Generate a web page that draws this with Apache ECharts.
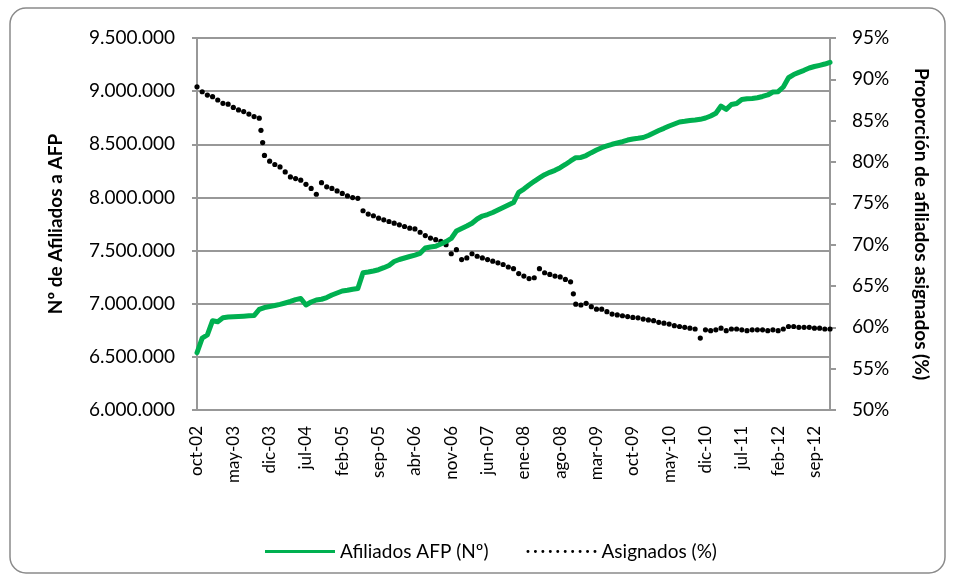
<!DOCTYPE html>
<html>
<head>
<meta charset="utf-8">
<title>Afiliados AFP</title>
<script src="https://cdn.jsdelivr.net/npm/echarts@6.0.0/dist/echarts.min.js"></script>
<style>
  html, body { margin: 0; padding: 0; background: #fff; }
  #chart { width: 954px; height: 579px; }
</style>
</head>
<body>
<div id="chart"></div>
<script>
// meses (eje x), desde oct-02 hasta dic-12
var MESES = ['ene', 'feb', 'mar', 'abr', 'may', 'jun', 'jul', 'ago', 'sep', 'oct', 'nov', 'dic'];
var categorias = [];
for (var m = 9, a = 2; categorias.length < 123; m++) {
  if (m == 12) { m = 0; a++; }
  categorias.push(MESES[m] + '-' + (a < 10 ? '0' + a : a));
}

// Nº de afiliados (eje izquierdo)
var afiliados = [
  6539000, 6677000, 6706000, 6840000, 6831000, 6868000, 6875000, 6878000, 6880000, 6883000,
  6886000, 6889000, 6946000, 6964000, 6974000, 6983000, 6994000, 7007000, 7021000, 7038000,
  7049000, 6988000, 7016000, 7035000, 7042000, 7058000, 7082000, 7101000, 7120000, 7126000,
  7136000, 7143000, 7292000, 7298000, 7308000, 7320000, 7339000, 7360000, 7397000, 7416000,
  7430000, 7444000, 7458000, 7474000, 7524000, 7534000, 7540000, 7562000, 7585000, 7614000,
  7684000, 7708000, 7731000, 7757000, 7797000, 7825000, 7839000, 7858000, 7882000, 7905000,
  7929000, 7952000, 8048000, 8079000, 8117000, 8152000, 8183000, 8214000, 8236000, 8255000,
  8280000, 8310000, 8343000, 8374000, 8376000, 8394000, 8421000, 8446000, 8468000, 8484000,
  8500000, 8512000, 8524000, 8540000, 8550000, 8556000, 8564000, 8583000, 8606000, 8630000,
  8650000, 8672000, 8691000, 8710000, 8716000, 8724000, 8728000, 8735000, 8747000, 8766000,
  8792000, 8860000, 8829000, 8874000, 8884000, 8921000, 8929000, 8931000, 8938000, 8950000,
  8964000, 8992000, 8995000, 9039000, 9126000, 9156000, 9177000, 9196000, 9218000, 9232000,
  9243000, 9255000, 9271000
];

// proporción de afiliados asignados, % (eje derecho)
var asignados = [
  89.1, 88.5, 88.1, 87.9, 87.5, 87.1, 87.0, 86.6, 86.3, 86.1, 85.8, 85.5, 85.3,
  80.8, 80.1, 79.7, 79.4, 78.8, 78.2, 78.0, 77.8, 77.3, 76.8, 76.1, 77.5, 77.0, 76.8, 76.5, 76.2, 75.9, 75.7, 75.6,
  74.1, 73.7, 73.5, 73.2, 73.0, 72.8, 72.6, 72.4, 72.2, 72.0, 71.9, 71.5, 71.1, 70.8, 70.6, 70.4, 70.0,
  68.9, 69.4, 68.2, 68.4, 68.9, 68.6, 68.4, 68.2, 68.0, 67.8, 67.6, 67.3, 67.1, 66.5, 66.2, 65.9, 66.0,
  67.1, 66.6, 66.4, 66.2, 66.1, 65.8, 65.5,
  62.8, 62.7, 62.9, 62.5, 62.2, 62.2, 61.9, 61.6, 61.5, 61.4, 61.3, 61.2, 61.15, 61.0, 60.9, 60.8,
  60.6, 60.5, 60.4, 60.2, 60.1, 60.0, 59.9, 59.8,
  58.7, 59.7, 59.6, 59.7, 59.9, 59.6, 59.8, 59.8, 59.7, 59.6, 59.7, 59.7, 59.7, 59.6, 59.7, 59.6,
  59.8, 60.1, 60.1, 60.0, 60.0, 60.0, 59.9, 59.9, 59.8, 59.8
];

var FONT = 'Lato';
var GRIS = '#989898';
var PASO_PUNTO = 12.3; // separación de puntos en tramos largos

function miles(v) {
  return String(v).replace(/\B(?=(\d{3})+(?!\d))/g, '.');
}

// iconos de leyenda: linea continua y linea de puntos
var iconoLinea = 'path://M0,0L70,0L70,3L0,3Z';
var iconoPuntos = 'path://';
for (var k = 0; k < 10; k++) {
  var cx = 1.4 + k * 7;
  iconoPuntos += 'M' + (cx - 1.4) + ',1.4a1.4,1.4 0 1,0 2.8,0a1.4,1.4 0 1,0 -2.8,0z';
}

// la serie de puntos: un punto en cada mes y puntos extra en tramos empinados
function dibujaPuntos(params, api) {
  var i = params.dataIndex;
  var p0 = api.coord([i, asignados[i]]);
  var pts = [p0];
  if (i < asignados.length - 1) {
    var p1 = api.coord([i + 1, asignados[i + 1]]);
    var dx = p1[0] - p0[0], dy = p1[1] - p0[1];
    var len = Math.sqrt(dx * dx + dy * dy);
    for (var d = PASO_PUNTO; d < len - 3; d += PASO_PUNTO) {
      pts.push([p0[0] + dx * d / len, p0[1] + dy * d / len]);
    }
  }
  return {
    type: 'group',
    children: pts.map(function (p) {
      return { type: 'circle', shape: { cx: p[0], cy: p[1], r: 2.6 }, style: { fill: '#000' } };
    })
  };
}

var myChart = echarts.init(document.getElementById('chart'), null, { renderer: 'canvas' });
myChart.setOption({
  animation: false,
  backgroundColor: '#fff',
  textStyle: { fontFamily: FONT },
  graphic: [
    {
      type: 'rect',
      shape: { x: 10, y: 8, width: 935, height: 565, r: 16 },
      style: { fill: 'none', stroke: '#8a8a8a', lineWidth: 1.5 },
      silent: true
    }
  ],
  grid: { left: 197, right: 124, top: 38, bottom: 169 },
  legend: {
    left: 260,
    top: 537,
    itemWidth: 70,
    itemHeight: 14,
    itemGap: 38,
    textStyle: { fontFamily: FONT, fontSize: 19, color: '#000' },
    data: [
      { name: 'Afiliados AFP (Nº)', icon: iconoLinea },
      { name: 'Asignados (%)', icon: iconoPuntos }
    ]
  },
  xAxis: {
    type: 'category',
    data: categorias,
    boundaryGap: false,
    axisLine: { lineStyle: { color: GRIS, width: 2 } },
    axisTick: { show: false },
    axisLabel: {
      interval: 6,
      rotate: 90,
      margin: 16,
      fontFamily: FONT,
      fontSize: 17,
      color: '#000'
    },
    splitLine: { show: false }
  },
  yAxis: [
    {
      type: 'value',
      min: 6000000,
      max: 9500000,
      interval: 500000,
      name: 'Nº de Afiliados a AFP',
      nameLocation: 'middle',
      nameGap: 132,
      nameTextStyle: { fontFamily: FONT, fontSize: 19, fontWeight: 'bold', color: '#000' },
      axisLine: { show: true, lineStyle: { color: GRIS, width: 2 } },
      axisTick: { show: true, length: 5, lineStyle: { color: GRIS, width: 2 } },
      axisLabel: { formatter: miles, margin: 22, fontFamily: FONT, fontSize: 19, color: '#000' },
      splitLine: { show: true, lineStyle: { color: GRIS, width: 2 } }
    },
    {
      type: 'value',
      position: 'right',
      min: 50,
      max: 95,
      interval: 5,
      name: 'Proporción de afiliados asignados (%)',
      nameLocation: 'middle',
      nameRotate: -90,
      nameGap: 82,
      nameTextStyle: { fontFamily: FONT, fontSize: 19, fontWeight: 'bold', color: '#000' },
      axisLine: { show: true, lineStyle: { color: GRIS, width: 2 } },
      axisTick: { show: true, length: 6, lineStyle: { color: GRIS, width: 2 } },
      axisLabel: { formatter: '{value}%', margin: 22, fontFamily: FONT, fontSize: 19, color: '#000' },
      splitLine: { show: false }
    }
  ],
  series: [
    {
      name: 'Asignados (%)',
      type: 'custom',
      xAxisIndex: 0,
      yAxisIndex: 1,
      itemStyle: { color: '#000' },
      encode: { x: 0, y: 1 },
      data: asignados.map(function (v, i) { return [i, v]; }),
      renderItem: dibujaPuntos,
      z: 2
    },
    {
      name: 'Afiliados AFP (Nº)',
      type: 'line',
      xAxisIndex: 0,
      yAxisIndex: 0,
      data: afiliados,
      symbol: 'none',
      color: '#00B050',
      lineStyle: { color: '#00B050', width: 5, cap: 'round', join: 'round' },
      z: 3
    }
  ]
});
window.onresize = myChart.resize;
</script>
</body>
</html>
